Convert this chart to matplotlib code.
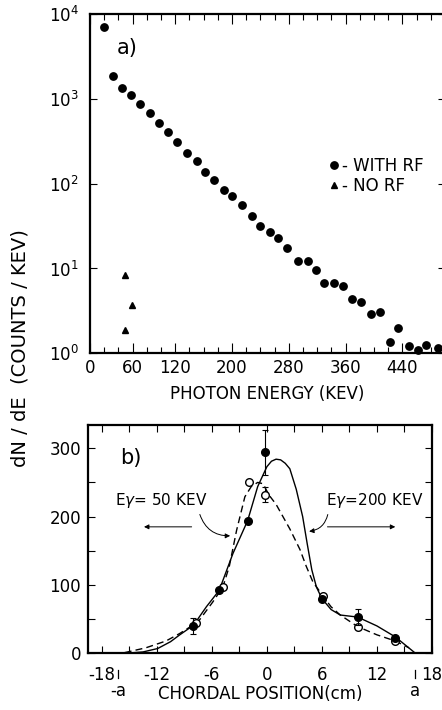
import matplotlib.pyplot as plt
import matplotlib.ticker as ticker
import matplotlib.transforms as mtransforms

# ── Data: a) photon spectrum ──────────────────────────────────────────────────
ENERGY_RF = [20, 32, 45.5, 58, 71, 84, 97.5, 110, 122, 136, 150, 162, 175, 189,
             200, 214.5, 227.5, 240, 253, 265, 278, 293, 307, 318, 330, 344,
             357, 368.5, 382, 396, 408.5, 422, 434, 449, 461.5, 473, 490]
COUNTS_RF = [7100, 1850, 1340, 1110, 877, 688, 525, 407, 313, 232, 187, 136,
             111, 85, 72, 56, 41, 32, 27, 22.7, 17.5, 12.4, 12.4, 9.6, 6.75,
             6.7, 6.2, 4.37, 4.06, 2.88, 3.04, 1.35, 2.0, 1.22, 1.09, 1.25, 1.16]

ENERGY_NORF = [49, 59, 49]
COUNTS_NORF = [8.4, 3.7, 1.88]

ENERGY_TICKS = [0, 60, 120, 200, 280, 360, 440]

# ── Data: b) chordal profiles ─────────────────────────────────────────────────
POS_200 = [-8.1, -5.2, -2.1, -0.2, 6.0, 9.9, 14.0]
DN_200 = [40, 92, 194, 294, 80, 53, 23]
ERR_200 = [12, 0, 0, 33, 0, 12, 0]

POS_50 = [-7.7, -4.8, -1.9, -0.2, 6.1, 9.9, 14.0]
DN_50 = [44, 97, 251, 232, 84, 39, 18]
ERR_50 = [0, 0, 0, 11, 0, 0, 0]

FIT_X_200 = [-15.4, -13.5, -11.9, -10.5, -9.5, -8.0, -6.6, -5.2, -3.7, -2.1,
             -1.0, 0.0, 0.5, 1.0, 1.5, 2.0, 2.5, 3.2, 3.9, 4.4, 4.9, 5.4, 6.0,
             7.0, 8.0, 9.9, 12.0, 14.0, 16.2]
FIT_Y_200 = [0, 2, 7, 17, 27, 41, 68, 92, 146, 194, 244, 273, 281, 284, 283,
             278, 270, 240, 200, 160, 122, 97, 80, 64, 56, 53, 40, 24, 0]

FIT_X_50 = [-15.5, -13.2, -11.0, -9.5, -7.5, -5.9, -4.8, -4.1, -3.3, -2.4,
            -1.7, -1.0, -0.4, 0.2, 1.0, 2.5, 3.6, 4.3, 5.0, 6.1, 7.0, 8.0,
            9.9, 12.0, 14.0, 15.5]
FIT_Y_50 = [1, 8, 18, 29, 46, 75, 97, 127, 180, 229, 244, 250, 248, 232, 218,
            182, 152, 127, 105, 84, 68, 56, 39, 27, 18, 8]

MINOR_RADIUS = 16.2

plt.rcParams['font.family'] = ['DejaVu Sans']
plt.rcParams['axes.unicode_minus'] = False

fig = plt.figure(figsize=(4.42, 7.1), dpi=100)

# ── Panel a) ──────────────────────────────────────────────────────────────────
ax1 = fig.add_axes([90 / 442, 1 - 353.3 / 710, 355 / 442, 339.3 / 710])
ax1.semilogy(ENERGY_RF, COUNTS_RF, 'o', color='black', markersize=5.3,
             linestyle='none', clip_on=False, label='- WITH RF', zorder=3)
ax1.semilogy(ENERGY_NORF, COUNTS_NORF, '^', color='black', markersize=4.5,
             linestyle='none', label='- NO RF', zorder=3)
ax1.set_xlim(0, 500)
ax1.set_ylim(1, 1e4)
ax1.set_xticks(ENERGY_TICKS)
ax1.xaxis.set_minor_locator(ticker.MultipleLocator(20))
ax1.yaxis.set_minor_locator(ticker.NullLocator())
ax1.tick_params(which='both', direction='in', top=True, right=True,
                labelsize=12, width=0.8)
ax1.tick_params(axis='x', which='major', length=7, pad=4)
ax1.tick_params(axis='x', which='minor', length=4.5)
ax1.tick_params(axis='y', which='major', length=5, pad=8)
for sp in ax1.spines.values():
    sp.set_linewidth(1.6)
ax1.set_xlabel('PHOTON ENERGY (KEV)', fontsize=12, labelpad=6)
ax1.text(0.104, 0.90, 'a)', transform=ax1.transAxes, fontsize=15,
         ha='center', va='center')
ax1.legend(loc='center left', bbox_to_anchor=(0.655, 0.523), frameon=False,
           fontsize=12, handlelength=0.6, handletextpad=0.15,
           labelspacing=0.1, borderaxespad=0)

# ── Panel b) ──────────────────────────────────────────────────────────────────
ax2 = fig.add_axes([88 / 442, 1 - 653.3 / 710, 344 / 442, 228.3 / 710])
ax2.plot(FIT_X_200, FIT_Y_200, '-', color='black', lw=1.0)
ax2.plot(FIT_X_50, FIT_Y_50, '--', color='black', lw=1.0, dashes=(5, 3))
ax2.errorbar(POS_200, DN_200, yerr=ERR_200, fmt='o', color='black',
             markersize=5.5, elinewidth=0.8, capsize=2.5, capthick=0.8, zorder=4)
ax2.errorbar(POS_50, DN_50, yerr=ERR_50, fmt='o', color='black',
             markerfacecolor='white', markersize=5.5, elinewidth=0.8,
             capsize=2.5, capthick=0.8, zorder=3)
ax2.set_xlim(-19.5, 18)
ax2.set_ylim(0, 334)
ax2.set_xticks([-18, -12, -6, 0, 6, 12, 18])
ax2.xaxis.set_minor_locator(ticker.MultipleLocator(3))
ax2.set_yticks([0, 100, 200, 300])
ax2.yaxis.set_minor_locator(ticker.MultipleLocator(50))
ax2.tick_params(which='both', direction='in', top=True, right=True,
                labelsize=12, length=5, width=0.8)
ax2.tick_params(axis='x', which='both', pad=9)
ax2.tick_params(axis='y', which='both', pad=5)
for sp in ax2.spines.values():
    sp.set_linewidth(1.6)
ax2.set_xlabel('CHORDAL POSITION(cm)', fontsize=12, labelpad=1)
ax2.text(0.125, 0.855, 'b)', transform=ax2.transAxes, fontsize=15,
         ha='center', va='center')

# plasma edge markers
edge = mtransforms.blended_transform_factory(ax2.transData, ax2.transAxes)
for x, lab in [(-MINOR_RADIUS, '-a'), (MINOR_RADIUS, 'a')]:
    ax2.plot([x, x], [-0.075, -0.11], color='black', lw=0.9,
             transform=edge, clip_on=False)
    ax2.text(x, -0.125, lab, transform=edge, fontsize=12, ha='center',
             va='top')

# energy annotations
ax2.text(-11.5, 224, r'E$\gamma$= 50 KEV', fontsize=11, ha='center',
         va='center')
ax2.text(11.7, 224, r'E$\gamma$=200 KEV', fontsize=11, ha='center',
         va='center')
arrow = dict(arrowstyle='-|>', color='black', lw=0.7, mutation_scale=7)
ax2.annotate('', xy=(-3.7, 172), xytext=(-7.4, 207),
             arrowprops=dict(arrow, connectionstyle='arc3,rad=0.4'))
ax2.annotate('', xy=(4.3, 178), xytext=(6.7, 207),
             arrowprops=dict(arrow, connectionstyle='arc3,rad=-0.4'))
ax2.annotate('', xy=(-13.7, 185), xytext=(-7.9, 185), arrowprops=arrow)
ax2.annotate('', xy=(14.3, 185), xytext=(6.3, 185), arrowprops=arrow)

fig.text(20 / 442, 1 - 348 / 710, 'dN / dE  (COUNTS / KEV)', rotation=90,
         fontsize=14, ha='center', va='center')

fig.savefig('out.png', dpi=100)
